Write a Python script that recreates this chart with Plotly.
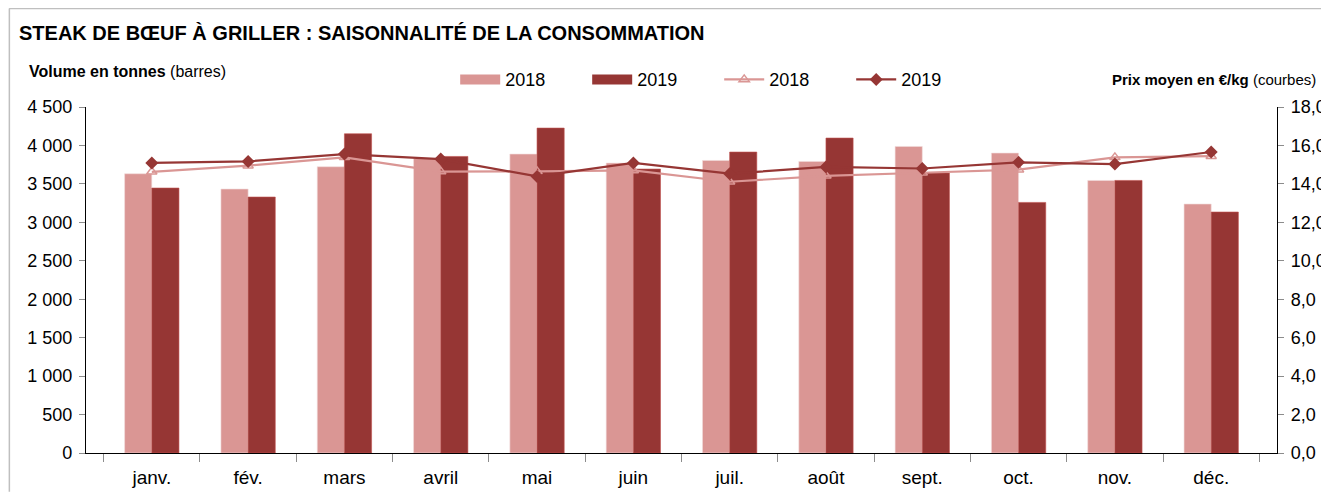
import plotly.graph_objects as go

months = ["janv.", "fév.", "mars", "avril", "mai", "juin", "juil.", "août", "sept.", "oct.", "nov.", "déc."]
volume_2018 = [3632, 3433, 3723, 3831, 3888, 3771, 3805, 3792, 3987, 3901, 3545, 3238]
volume_2019 = [3446, 3329, 4152, 3857, 4226, 3693, 3914, 4096, 3641, 3259, 3545, 3134]
prix_2018 = [14.63, 14.95, 15.38, 14.64, 14.65, 14.70, 14.11, 14.42, 14.58, 14.74, 15.38, 15.44]
prix_2019 = [15.09, 15.17, 15.55, 15.29, 14.39, 15.09, 14.53, 14.88, 14.80, 15.12, 15.03, 15.66]

c18 = "#DA9694"
c19 = "#963634"
FONT = "Liberation Sans, Arial, sans-serif"

# the page body has an 8px margin: figure coordinates = page coordinates - 8
OFF = 8
W, H = 1329 - OFF, 492 - OFF
L, T = 85.5 - OFF, 107.3 - OFF
R = W - (1277.5 - OFF)
B = H - (453.3 - OFF)
pw, ph = W - L - R, H - T - B

def px(x):
    return (x - OFF - L) / pw

def py(y):
    return (H - B - (y - OFF)) / ph

fig = go.Figure()
fig.add_trace(go.Bar(x=months, y=volume_2018, name="2018", showlegend=False,
                     marker=dict(color=c18, line=dict(width=0.6, color="#F2DCDB")), yaxis="y"))
fig.add_trace(go.Bar(x=months, y=volume_2019, name="2019", showlegend=False,
                     marker=dict(color=c19, line=dict(width=0.6, color="#C0504D")), yaxis="y"))
# legend-only swatches for the bar series (wide rectangles as in the original)
fig.add_trace(go.Scatter(x=[None], y=[None], name="2018", mode="lines", yaxis="y",
                         line=dict(color=c18, width=10)))
fig.add_trace(go.Scatter(x=[None], y=[None], name="2019", mode="lines", yaxis="y",
                         line=dict(color=c19, width=10)))
fig.add_trace(go.Scatter(x=months, y=prix_2018, name="2018", mode="lines+markers", yaxis="y2",
                         line=dict(color=c18, width=2.2),
                         marker=dict(symbol="triangle-up-open", size=9, color=c18, line=dict(width=1.5, color=c18))))
fig.add_trace(go.Scatter(x=months, y=prix_2019, name="2019", mode="lines+markers", yaxis="y2",
                         line=dict(color=c19, width=2.2),
                         marker=dict(symbol="diamond", size=10, color=c19)))

fig.update_layout(
    width=W, height=H,
    margin=dict(l=L, r=R, t=T, b=B, pad=0, autoexpand=False),
    paper_bgcolor="white", plot_bgcolor="white",
    separators=", ",
    font=dict(family=FONT, size=18, color="#000000"),
    barmode="group", bargap=0.436, bargroupgap=0,
    showlegend=True,
    legend=dict(orientation="h", x=px(455), xanchor="left", y=py(80), yanchor="middle",
                font=dict(size=18, family=FONT), entrywidth=77, itemwidth=40,
                bgcolor="rgba(0,0,0,0)", tracegroupgap=0),
    xaxis=dict(type="category", showline=True, linecolor="#000000", linewidth=1.2, automargin=False,
               ticks="outside", tickson="boundaries", ticklen=8, tickcolor="#8C8C8C",
               showgrid=False, tickfont=dict(size=19), ticklabelstandoff=7),
    yaxis=dict(range=[0, 4500], dtick=500, tickformat=",d", showline=True, linecolor="#000000",
               linewidth=1.2, ticks="outside", ticklen=6, tickcolor="#8C8C8C", showgrid=False,
               zeroline=False, tickfont=dict(size=18), ticklabelstandoff=3, automargin=False),
    yaxis2=dict(range=[0, 18], dtick=2, tickformat=".1f", overlaying="y", side="right",
                showline=True, linecolor="#000000", linewidth=1.2, ticks="outside", ticklen=6,
                tickcolor="#8C8C8C", showgrid=False, zeroline=False, tickfont=dict(size=18),
                ticklabelstandoff=3, automargin=False),
)

fig.add_annotation(text="<b>STEAK DE BŒUF À GRILLER : SAISONNALITÉ DE LA CONSOMMATION</b>",
                   xref="paper", yref="paper", x=px(16), y=py(33), xanchor="left", yanchor="middle",
                   showarrow=False, font=dict(size=20, family=FONT))
fig.add_annotation(text="<b>Volume en tonnes</b> (barres)",
                   xref="paper", yref="paper", x=px(26), y=py(72), xanchor="left", yanchor="middle",
                   showarrow=False, font=dict(size=16, family=FONT))
fig.add_annotation(text="<b>Prix moyen en €/kg</b> (courbes)",
                   xref="paper", yref="paper", x=px(1319), y=py(80), xanchor="right", yanchor="middle",
                   showarrow=False, font=dict(size=15, family=FONT))

# outer frame: top and left edges
fig.add_shape(type="line", xref="paper", yref="paper", x0=px(8.5), x1=px(1329), y0=py(8.8), y1=py(8.8),
              line=dict(color="#BFBFBF", width=1.5), layer="below")
fig.add_shape(type="line", xref="paper", yref="paper", x0=px(8.8), x1=px(8.8), y0=py(8.8), y1=py(492),
              line=dict(color="#BFBFBF", width=1.5), layer="below")

fig.write_html("out.html")
